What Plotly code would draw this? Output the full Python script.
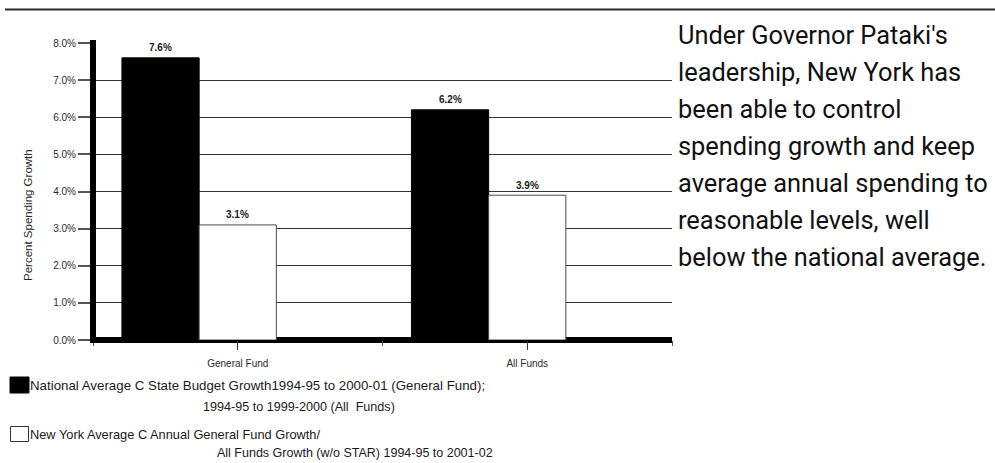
import plotly.graph_objects as go

# Spending growth data (percent)
categories = ["General Fund", "All Funds"]
national_avg = [7.6, 6.2]
new_york_avg = [3.1, 3.9]

y_ticks = [0, 1, 2, 3, 4, 5, 6, 7, 8]
y_tick_labels = [f"{v:.1f}%" for v in y_ticks]

legend_national = [
    "National Average C State Budget Growth1994-95 to 2000-01 (General Fund);",
    "1994-95 to 1999-2000 (All  Funds)",
]
legend_new_york = [
    "New York Average C Annual General Fund Growth/",
    "All Funds Growth (w/o STAR) 1994-95 to 2001-02",
]

side_text = [
    "Under Governor Pataki's",
    "leadership, New York has",
    "been able to control",
    "spending growth and keep",
    "average annual spending to",
    "reasonable levels, well",
    "below the national average.",
]

# ---- layout geometry (pixels) ----
W, H = 995, 463
PL, PR, PT, PB = 93, 672, 43, 340
PW, PH = PR - PL, PB - PT


def px_x(x):
    return (x - PL) / PW


def px_y(y):
    return (PB - y) / PH


AXIS_FONT = "Liberation Sans, Arial, sans-serif"
SIDE_FONT = "Roboto, Liberation Sans, sans-serif"

# Three bar slots per category (third one left empty)
slots = 3
group_gap = 0.2
bar_w = (1 - group_gap) / slots
first_offset = -(1 - group_gap) / 2

x_pos = list(range(len(categories)))
series = [
    (national_avg, first_offset, "#000000", "#000000"),
    (new_york_avg, first_offset + bar_w, "#ffffff", "#4a4a4a"),
]

fig = go.Figure()
annotations = []
for values, offs, fill, edge in series:
    fig.add_trace(go.Bar(
        x=x_pos, y=values, width=bar_w, offset=offs,
        marker=dict(color=fill, line=dict(color=edge, width=1)),
        showlegend=False, hoverinfo="skip",
    ))
    # value labels above each bar
    for xi, v in zip(x_pos, values):
        annotations.append(dict(
            text=f"<b>{v:.1f}%</b>", xref="x", yref="y",
            x=xi + offs + bar_w / 2, y=v, yshift=10,
            xanchor="center", yanchor="middle", showarrow=False,
            font=dict(family=AXIS_FONT, size=10, color="#1a1a1a")))

shapes = [
    # rule across the top of the page
    dict(type="line", xref="paper", yref="paper",
         x0=px_x(5), x1=px_x(995), y0=px_y(9.5), y1=px_y(9.5),
         line=dict(color="#2a2a2a", width=2)),
    # heavy value axis line
    dict(type="line", xref="paper", yref="paper",
         x0=0, x1=0, y0=px_y(343), y1=px_y(40),
         line=dict(color="#000000", width=6), layer="above"),
    # legend keys
    dict(type="rect", xref="paper", yref="paper",
         x0=px_x(10), x1=px_x(29), y0=px_y(393), y1=px_y(377),
         fillcolor="#000000", line=dict(color="#000000", width=1)),
    dict(type="rect", xref="paper", yref="paper",
         x0=px_x(10.5), x1=px_x(28.5), y0=px_y(441.5), y1=px_y(426.5),
         fillcolor="#ffffff", line=dict(color="#333333", width=1)),
]

annotations.append(dict(
    text="Percent Spending Growth", textangle=-90,
    xref="paper", yref="paper", x=px_x(28), y=px_y(215),
    xanchor="center", yanchor="middle", showarrow=False,
    font=dict(family=AXIS_FONT, size=11.5, color="#2a2a2a")))

legend_rows = [
    (legend_national[0], 28, 385, 13.3),
    (legend_national[1], 201, 407, 12.6),
    (legend_new_york[0], 28, 434, 12.8),
    (legend_new_york[1], 215, 453, 12.5),
]
for txt, lx, ly, fs in legend_rows:
    annotations.append(dict(
        text=txt, xref="paper", yref="paper", x=px_x(lx), y=px_y(ly),
        xanchor="left", yanchor="middle", showarrow=False,
        font=dict(family=AXIS_FONT, size=fs, color="#1a1a1a")))

# commentary, one line beside each gridline
for i, line in enumerate(side_text):
    annotations.append(dict(
        text=line, xref="paper", yref="y", x=px_x(676), y=y_ticks[-1 - i],
        yshift=8.5, xanchor="left", yanchor="middle", showarrow=False,
        font=dict(family=SIDE_FONT, size=25.4, color="#111111")))

fig.update_layout(
    width=W, height=H,
    margin=dict(l=PL, r=W - PR, t=PT, b=H - PB, pad=0),
    paper_bgcolor="#ffffff", plot_bgcolor="#ffffff",
    barmode="overlay",
    showlegend=False,
    font=dict(family=AXIS_FONT, size=10, color="#2a2a2a"),
    shapes=shapes, annotations=annotations,
    xaxis=dict(
        range=[-0.5, len(categories) - 0.5],
        tickvals=x_pos, ticktext=categories,
        ticks="outside", ticklen=9, tickwidth=1, tickcolor="#333333",
        ticklabelstandoff=5,
        minor=dict(ticks="outside", ticklen=5, tick0=0.5, dtick=1,
                   tickcolor="#555555", tickwidth=1),
        showgrid=False, zeroline=False, showline=False,
        tickfont=dict(family=AXIS_FONT, size=10, color="#2a2a2a"),
        fixedrange=True,
    ),
    yaxis=dict(
        range=[0, 8], tickvals=y_ticks, ticktext=y_tick_labels,
        ticks="outside", ticklen=14, tickwidth=1.5, tickcolor="#555555",
        showgrid=True, gridcolor="#333333", gridwidth=1.2,
        zeroline=True, zerolinecolor="#000000", zerolinewidth=6,
        showline=False,
        tickfont=dict(family=AXIS_FONT, size=10, color="#2a2a2a"),
        fixedrange=True,
    ),
)

fig.write_html("out.html", config=dict(displayModeBar=False))
